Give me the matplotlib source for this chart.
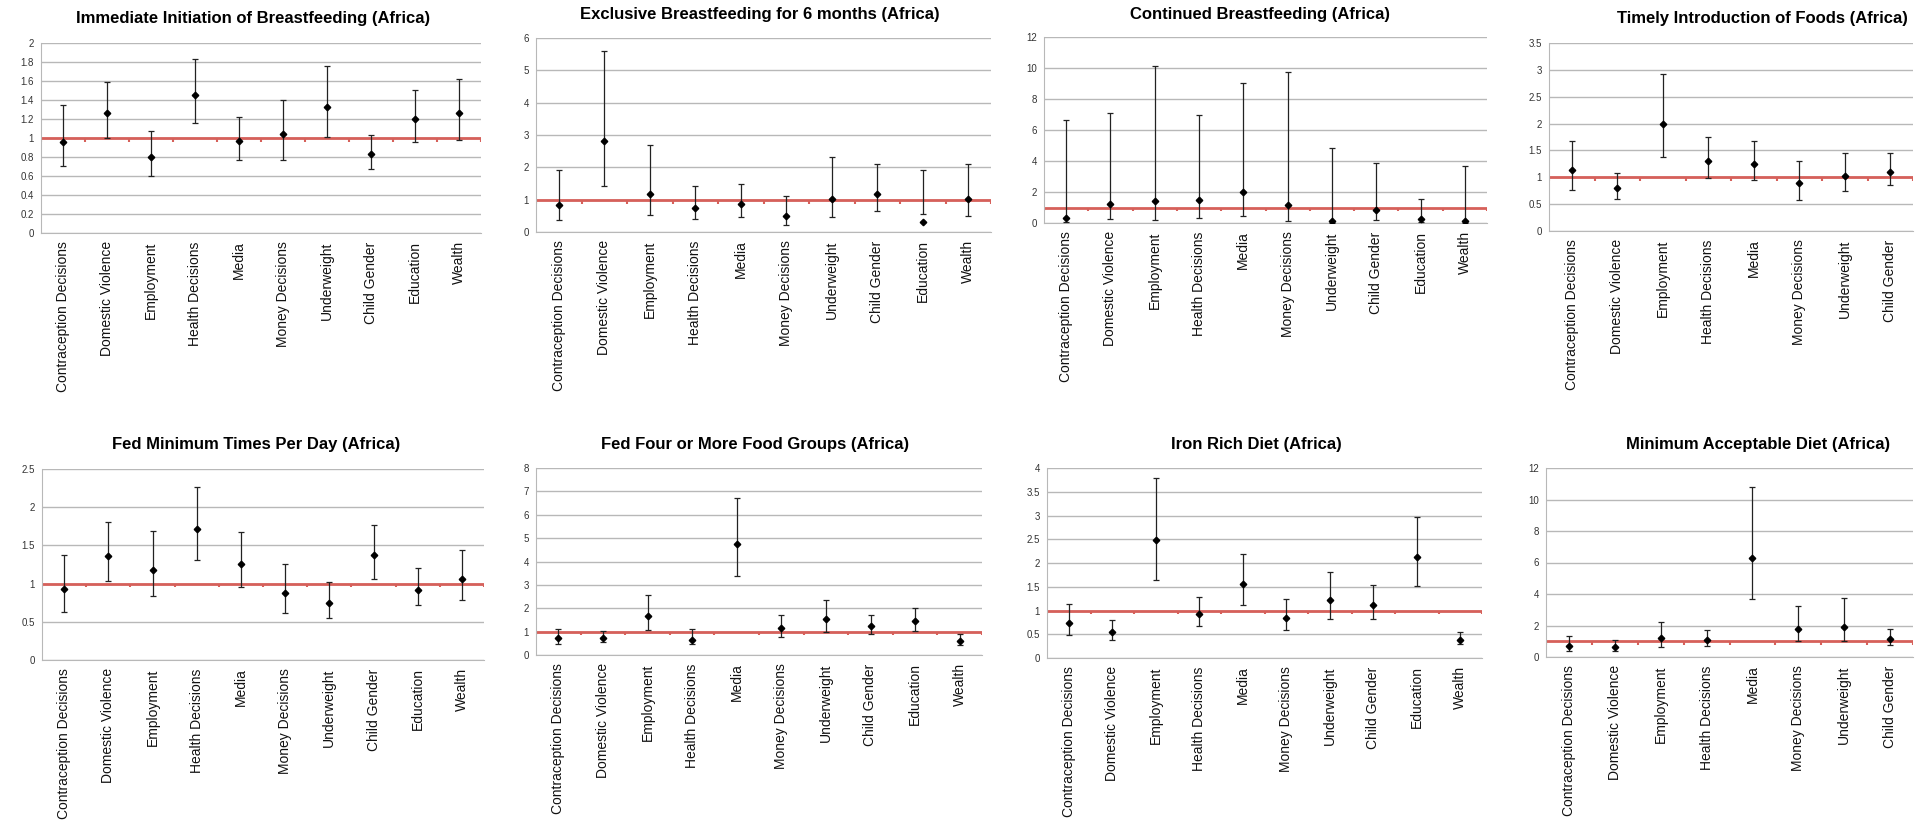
import numpy as np
import matplotlib
matplotlib.use("Agg")
import matplotlib.pyplot as plt

plt.rcParams['font.family'] = ['Liberation Sans', 'DejaVu Sans']

categories = ["Contraception Decisions", "Domestic Violence", "Employment",
              "Health Decisions", "Media", "Money Decisions", "Underweight",
              "Child Gender", "Education", "Wealth"]

# odds ratio (point), lower and upper confidence limit for each outcome
init_or = [0.96, 1.26, 0.80, 1.45, 0.97, 1.04, 1.33, 0.83, 1.20, 1.26]
init_lo = [0.70, 1.00, 0.60, 1.16, 0.77, 0.77, 1.01, 0.67, 0.96, 0.98]
init_hi = [1.35, 1.59, 1.07, 1.83, 1.22, 1.40, 1.76, 1.03, 1.50, 1.62]

excl_or = [0.83, 2.80, 1.19, 0.75, 0.86, 0.49, 1.02, 1.19, 0.31, 1.01]
excl_lo = [0.36, 1.42, 0.53, 0.40, 0.47, 0.21, 0.46, 0.66, 0.56, 0.50]
excl_hi = [1.93, 5.59, 2.70, 1.41, 1.49, 1.11, 2.33, 2.10, 1.91, 2.09]

cont_or = [0.32, 1.25, 1.40, 1.51, 1.98, 1.18, 0.13, 0.84, 0.26, 0.15]
cont_lo = [0.05, 0.24, 0.19, 0.32, 0.45, 0.15, 0.01, 0.19, 0.04, 0.01]
cont_hi = [6.67, 7.10, 10.1, 6.95, 9.03, 9.74, 4.84, 3.85, 1.53, 3.70]

timely_or = [1.13, 0.80, 1.99, 1.31, 1.25, 0.89, 1.03, 1.10]
timely_lo = [0.76, 0.60, 1.37, 0.98, 0.95, 0.58, 0.74, 0.85]
timely_hi = [1.67, 1.08, 2.92, 1.75, 1.67, 1.31, 1.46, 1.46]

fedmin_or = [0.93, 1.36, 1.18, 1.71, 1.26, 0.88, 0.74, 1.37, 0.92, 1.06]
fedmin_lo = [0.63, 1.03, 0.84, 1.31, 0.96, 0.62, 0.545, 1.06, 0.715, 0.78]
fedmin_hi = [1.38, 1.81, 1.69, 2.26, 1.67, 1.26, 1.025, 1.77, 1.21, 1.435]

groups_or = [0.71, 0.74, 1.67, 0.63, 4.74, 1.14, 1.54, 1.23, 1.44, 0.61]
groups_lo = [0.47, 0.54, 1.09, 0.49, 3.36, 0.77, 1.00, 0.89, 1.04, 0.41]
groups_hi = [1.10, 1.03, 2.56, 1.10, 6.73, 1.73, 2.34, 1.70, 1.99, 0.89]

iron_or = [0.74, 0.55, 2.48, 0.93, 1.55, 0.85, 1.22, 1.12, 2.12, 0.38]
iron_lo = [0.48, 0.38, 1.64, 0.67, 1.12, 0.59, 0.82, 0.82, 1.52, 0.29]
iron_hi = [1.14, 0.80, 3.78, 1.28, 2.18, 1.24, 1.82, 1.53, 2.97, 0.55]

mad_or = [0.68, 0.63, 1.19, 1.10, 6.29, 1.80, 1.88, 1.14]
mad_lo = [0.40, 0.38, 0.63, 0.70, 3.66, 1.04, 0.99, 0.76]
mad_hi = [1.31, 1.06, 2.22, 1.74, 10.77, 3.24, 3.72, 1.76]

W, H = 1923, 822
fig = plt.figure(figsize=(W / 100, H / 100), dpi=100)

red = "#d6605a"
grid_gray = "#b8b8b8"

# (title, point, lo, hi, ymax, ystep, axes box in px (l, r, top, bottom), title centre px)
panels = [
    ("Immediate Initiation of Breastfeeding (Africa)", init_or, init_lo, init_hi, 2, 0.2,
     (41, 481, 43, 233), (253, 18)),
    ("Exclusive Breastfeeding for 6 months (Africa)", excl_or, excl_lo, excl_hi, 6, 1,
     (536, 991, 38, 232), (760, 15)),
    ("Continued Breastfeeding (Africa)", cont_or, cont_lo, cont_hi, 12, 2,
     (1044, 1487, 37, 223), (1260, 15)),
    ("Timely Introduction of Foods (Africa)", timely_or, timely_lo, timely_hi, 3.5, 0.5,
     (1549, 1913, 43, 231), (1762, 19)),
    ("Fed Minimum Times Per Day (Africa)", fedmin_or, fedmin_lo, fedmin_hi, 2.5, 0.5,
     (42, 484, 469, 660), (256, 445)),
    ("Fed Four or More Food Groups (Africa)", groups_or, groups_lo, groups_hi, 8, 1,
     (536, 982, 468, 655), (755, 445)),
    ("Iron Rich Diet (Africa)", iron_or, iron_lo, iron_hi, 4, 0.5,
     (1047, 1482, 468, 658), (1256, 445)),
    ("Minimum Acceptable Diet (Africa)", mad_or, mad_lo, mad_hi, 12, 2,
     (1546, 1913, 468, 657), (1758, 445)),
]

for title, pt, lo, hi, ymax, ystep, box, tpos in panels:
    l, r, t, b = box
    ax = fig.add_axes([l / W, 1 - b / H, (r - l) / W, (b - t) / H])
    n = len(pt)
    x = np.arange(n)

    ax.set_xlim(-0.5, n - 0.5)
    ax.set_ylim(0, ymax)
    yt = np.arange(0, ymax + ystep / 2, ystep)
    ax.set_yticks(yt)
    ax.set_yticklabels(["{:g}".format(round(v, 2)) for v in yt], fontsize=7, color="#333333")
    ax.set_xticks(x)
    ax.set_xticklabels(categories[:n], rotation=90, fontsize=10, va="top", color="#111111")
    ax.tick_params(axis="x", length=0, pad=6)
    ax.tick_params(axis="y", length=0, pad=5)

    ax.grid(axis="y", color=grid_gray, lw=1)
    ax.set_axisbelow(True)
    for s in ["top", "right"]:
        ax.spines[s].set_visible(False)
    ax.spines["left"].set_color(grid_gray)
    ax.spines["bottom"].set_color(grid_gray)

    # reference line at 1 with small category ticks
    ax.axhline(1, color=red, lw=2, zorder=2)
    edges = np.arange(n + 1) - 0.5
    ax.vlines(edges, 1 - ymax * 0.02, 1, color=red, lw=1.5, zorder=2)

    # confidence intervals
    ax.vlines(x, lo, hi, color="#222222", lw=0.9, zorder=3)
    ax.plot(x, lo, ls="none", marker="_", ms=5, mew=0.9, color="#222222", zorder=3)
    ax.plot(x, hi, ls="none", marker="_", ms=5, mew=0.9, color="#222222", zorder=3)
    ax.plot(x, pt, ls="none", marker="D", ms=3.3, color="black", zorder=4)

    fig.text(tpos[0] / W, 1 - tpos[1] / H, title, ha="center", va="center",
             fontsize=12, fontweight="bold")

fig.savefig("out.png", dpi=100)
